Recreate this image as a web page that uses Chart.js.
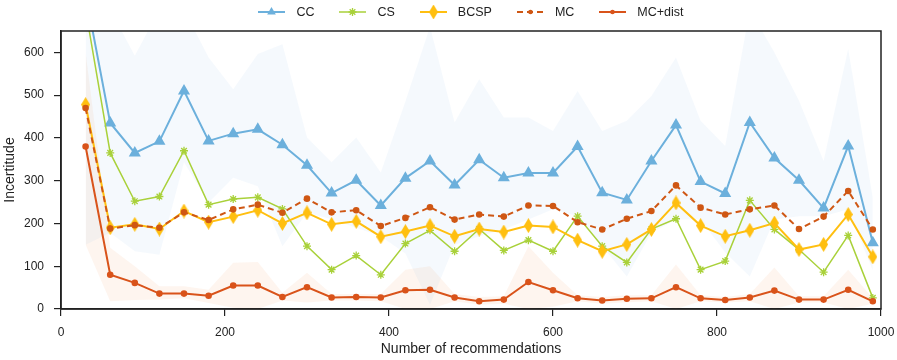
<!DOCTYPE html>
<html>
<head>
<meta charset="utf-8">
<script src="https://cdn.jsdelivr.net/npm/chart.js@4.4.0/dist/chart.umd.min.js"></script>
<style>
  body { margin: 0; background: #fff; }
  #wrap { position: relative; width: 897px; height: 360px; }
  #legend {
    position: absolute; top: 4px; left: 61px; width: 820px; height: 16px;
    display: flex; justify-content: center; align-items: center;
    font: 12.5px "Liberation Sans", Arial, sans-serif; color: #222;
  }
  .item { display: flex; align-items: center; margin: 0 12.5px; }
  .item canvas { margin-right: 11px; }
</style>
</head>
<body>
<div id="wrap">
  <canvas id="chart" width="897" height="360"></canvas>
  <div id="legend"></div>
</div>
<script>
// ====== Data ======
const recs = [30, 60, 90, 120, 150, 180, 210, 240, 270, 300, 330, 360, 390, 420, 450, 480, 510,
  540, 570, 600, 630, 660, 690, 720, 750, 780, 810, 840, 870, 900, 930, 960, 990];

const cc = [737, 435, 365, 392, 510, 393, 410, 420, 384, 336, 271, 301, 242, 306, 346, 290, 349,
  307, 318, 318, 380, 272, 255, 346, 430, 298, 270, 436, 353, 301, 236, 381, 155];
const cs = [700, 365, 252, 263, 370, 244, 257, 261, 234, 147, 92, 125, 80, 153, 184, 135, 187,
  137, 161, 135, 217, 147, 109, 187, 211, 92, 112, 254, 186, 139, 86, 172, 26];
const bcsp = [478, 190, 198, 187, 229, 203, 216, 231, 200, 225, 198, 205, 169, 181, 195, 170, 187,
  180, 195, 192, 161, 135, 151, 186, 248, 195, 170, 184, 201, 139, 151, 221, 122];
const mc = [470, 188, 196, 190, 226, 208, 233, 244, 225, 258, 226, 231, 194, 213, 238, 209, 221,
  216, 242, 241, 203, 186, 211, 229, 289, 237, 221, 233, 242, 187, 216, 276, 186];
const mcDist = [380, 80, 61, 36, 36, 31, 55, 55, 28, 51, 27, 28, 27, 44, 45, 27, 18,
  22, 63, 44, 25, 20, 24, 25, 51, 25, 21, 27, 43, 22, 22, 45, 18];

// shaded spread around CC and MC+dist
const ccUpper = [1000, 700, 592, 700, 700, 588, 514, 596, 619, 401, 343, 401, 319, 485, 660, 436, 537,
  448, 448, 416, 510, 416, 440, 498, 588, 440, 381, 700, 600, 487, 346, 608, 260];
const ccLower = [150, 178, 135, 127, 343, 249, 307, 287, 147, 225, 210, 190, 170, 130, 10, 150, 170,
  186, 209, 233, 217, 147, 76, 178, 209, 209, 132, 76, 209, 217, 217, 233, 90];
const mcDistUpper = [600, 143, 100, 53, 53, 45, 108, 110, 38, 85, 35, 35, 35, 92, 100, 35, 28,
  30, 147, 85, 32, 28, 32, 32, 104, 32, 28, 35, 97, 30, 30, 92, 25];
const mcDistLower = [150, 18, 21, 22, 25, 14, 3, 0, 20, 15, 20, 20, 18, 0, 0, 18, 10,
  12, 0, 5, 18, 12, 16, 18, 0, 18, 15, 18, 0, 15, 15, 0, 12];

const xTicks = [0, 200, 400, 600, 800, 1000];
const yTicks = [0, 100, 200, 300, 400, 500, 600];

// ====== Styles ======
const colors = {
  cc: "#6cb0dc",
  cs: "#a9d13a",
  bcsp: "#ffbf10",
  mc: "#cf5714",
  mcDist: "#d9531a",
};

Chart.defaults.font.family = '"Liberation Sans", Arial, sans-serif';
Chart.defaults.color = "#222";

// thin diamond marker for BCSP
function thinDiamond(color) {
  const c = document.createElement("canvas");
  c.width = 9;
  c.height = 15;
  const g = c.getContext("2d");
  g.fillStyle = color;
  g.beginPath();
  g.moveTo(4.5, 0);
  g.lineTo(9, 7.5);
  g.lineTo(4.5, 15);
  g.lineTo(0, 7.5);
  g.closePath();
  g.fill();
  return c;
}

const pts = (ys) => recs.map((x, i) => ({ x, y: ys[i] }));

function band(data, fill, color) {
  return {
    data: pts(data),
    fill,
    backgroundColor: color,
    borderWidth: 0,
    pointRadius: 0,
    order: 10,
    band: true,
  };
}

function series(label, data, color, extra) {
  return Object.assign({
    label,
    data: pts(data),
    borderColor: color,
    backgroundColor: color,
    pointBackgroundColor: color,
    pointBorderColor: color,
    borderWidth: 2,
    fill: false,
    tension: 0,
  }, extra);
}

// ====== Chart ======
const framePlugin = {
  id: "frame",
  afterDraw(chart) {
    const { ctx, chartArea: a } = chart;
    ctx.save();
    ctx.strokeStyle = "#222";
    ctx.lineWidth = 1.5;
    ctx.strokeRect(a.left, a.top, a.right - a.left, a.bottom - a.top);
    ctx.restore();
  },
};

const chart = new Chart(document.getElementById("chart"), {
  type: "line",
  data: {
    datasets: [
      band(ccUpper, "+1", "rgba(110,177,230,0.07)"),
      band(ccLower, false, "transparent"),
      band(mcDistUpper, "+1", "rgba(240,140,80,0.09)"),
      band(mcDistLower, false, "transparent"),
      series("CC", cc, colors.cc, { pointStyle: "triangle", pointRadius: 5, order: 5 }),
      series("CS", cs, colors.cs, { borderWidth: 1.5, pointStyle: "star", pointRadius: 4, pointBorderWidth: 1.3, order: 4 }),
      series("BCSP", bcsp, colors.bcsp, { pointStyle: thinDiamond(colors.bcsp), pointRadius: 5, order: 3 }),
      series("MC", mc, colors.mc, { borderDash: [6, 4], pointStyle: "circle", pointRadius: 2.3, order: 2 }),
      series("MC+dist", mcDist, colors.mcDist, { pointStyle: "circle", pointRadius: 2.3, order: 1 }),
    ],
  },
  options: {
    responsive: false,
    animation: false,
    events: [],
    layout: { padding: { top: 31, right: 16, left: 0, bottom: 0 } },
    plugins: {
      legend: { display: false },
      tooltip: { enabled: false },
    },
    scales: {
      x: {
        type: "linear",
        min: 0,
        max: 1000,
        afterBuildTicks: (s) => { s.ticks = xTicks.map((v) => ({ value: v })); },
        afterFit: (s) => { s.height = 51; s.paddingLeft = 0; s.paddingRight = 0; },
        ticks: { font: { size: 12 }, padding: 9, maxRotation: 0, callback: (v) => String(v) },
        grid: { drawOnChartArea: false, tickLength: 7, color: "#222", lineWidth: 1.2 },
        border: { color: "#222", width: 1.5 },
        title: { display: true, text: "Number of recommendations", font: { size: 14 }, padding: { top: 0, bottom: 2 } },
      },
      y: {
        min: 0,
        max: 650,
        afterBuildTicks: (s) => { s.ticks = yTicks.map((v) => ({ value: v })); },
        afterFit: (s) => { s.width = 61; s.paddingTop = 0; s.paddingBottom = 0; },
        ticks: { font: { size: 12 }, padding: 10, callback: (v) => String(v) },
        grid: { drawOnChartArea: false, tickLength: 7, color: "#222", lineWidth: 1.2 },
        border: { color: "#222", width: 1.5 },
        title: { display: true, text: "Incertitude", font: { size: 14 }, padding: { top: 2, bottom: 0 } },
      },
    },
  },
  plugins: [framePlugin],
});

// ====== HTML Legend ======
function drawKey(ds) {
  const c = document.createElement("canvas");
  c.width = 27;
  c.height = 14;
  const g = c.getContext("2d");
  g.strokeStyle = ds.borderColor;
  g.fillStyle = ds.borderColor;
  g.lineWidth = ds.borderWidth;
  g.setLineDash(ds.borderDash || []);
  g.beginPath();
  g.moveTo(0, 7);
  g.lineTo(27, 7);
  g.stroke();
  g.setLineDash([]);

  const style = ds.pointStyle;
  const r = ds.pointRadius;
  if (typeof style === "object") {
    g.drawImage(style, 13.5 - style.width / 2, 7 - style.height / 2);
  } else if (style === "triangle") {
    g.beginPath();
    g.moveTo(13.5, 7 - r);
    g.lineTo(13.5 + r * 0.866, 7 + r / 2);
    g.lineTo(13.5 - r * 0.866, 7 + r / 2);
    g.closePath();
    g.fill();
  } else if (style === "star") {
    g.lineWidth = ds.pointBorderWidth;
    g.beginPath();
    for (let k = 0; k < 4; k++) {
      const a = (k * Math.PI) / 4;
      g.moveTo(13.5 - Math.cos(a) * r, 7 - Math.sin(a) * r);
      g.lineTo(13.5 + Math.cos(a) * r, 7 + Math.sin(a) * r);
    }
    g.stroke();
  } else {
    g.beginPath();
    g.arc(13.5, 7, r, 0, Math.PI * 2);
    g.fill();
  }
  return c;
}

const legend = document.getElementById("legend");
chart.data.datasets.filter((ds) => !ds.band).forEach((ds) => {
  const item = document.createElement("div");
  item.className = "item";
  item.appendChild(drawKey(ds));
  const span = document.createElement("span");
  span.textContent = ds.label;
  item.appendChild(span);
  legend.appendChild(item);
});
</script>
</body>
</html>
